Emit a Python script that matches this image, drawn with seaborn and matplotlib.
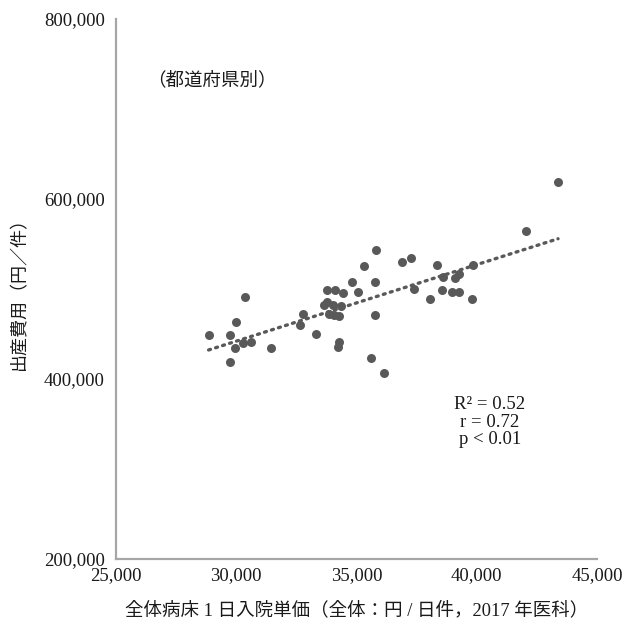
import numpy as np
import pandas as pd
import matplotlib
matplotlib.use("Agg")
import matplotlib.pyplot as plt
import seaborn as sns
from matplotlib.ticker import FuncFormatter

# 全体病床1日入院単価（円/日件）と出産費用（円/件）、都道府県別
unit_price = [
    28850, 29730, 30360, 29990, 29950, 30300, 30630, 29730, 31450, 32650,
    32790, 33300, 33790, 34090, 34450, 33650, 33790, 34040, 34360, 33870,
    34050, 34290, 34290, 34240, 34820, 35080, 35330, 35760, 35810, 35760,
    35590, 36160, 36910, 37260, 38360, 39860, 38610, 39100, 39270, 37410,
    38560, 38960, 39270, 38040, 39800, 42040, 43380,
]
delivery_cost = [
    448500, 448500, 491600, 463500, 434000, 440300, 441200, 419300, 434300, 460200,
    471900, 450100, 498400, 498400, 495800, 482500, 485600, 482200, 481600, 471900,
    471100, 470500, 441500, 435900, 508000, 496800, 525000, 508300, 543200, 470800,
    423700, 406900, 530400, 534500, 526100, 526200, 513700, 512500, 516400, 499700,
    498600, 496700, 496700, 488600, 488600, 564000, 619300,
]
x_ticks = [25000, 30000, 35000, 40000, 45000]
y_ticks = [200000, 400000, 600000, 800000]
stats_text = "R\u00b2 = 0.52\nr = 0.72\np < 0.01"
group_text = "（都道府県別）"
x_label = "全体病床 1 日入院単価（全体：円 / 日件，2017 年医科）"
y_label = "出産費用（円／件）"

df = pd.DataFrame({"price": unit_price, "cost": delivery_cost})

sns.set_theme(style="white")
plt.rcParams["font.family"] = ["Liberation Serif", "Noto Sans CJK JP"]

fig = plt.figure(figsize=(6.22, 6.24), dpi=100)
ax = fig.add_axes([0.1865, 0.1042, 0.7733, 0.8654])

point_color = "#595959"
sns.regplot(
    data=df, x="price", y="cost", ax=ax, ci=None, truncate=True,
    scatter_kws=dict(s=42, color=point_color, alpha=1, linewidths=0),
    line_kws=dict(color=point_color, linewidth=2.4,
                  linestyle=(0, (0.6, 1.6)), dash_capstyle="round"),
)

ax.set_xlim(25000, 45000)
ax.set_ylim(200000, 800000)
ax.set_xticks(x_ticks)
ax.set_yticks(y_ticks)
fmt = FuncFormatter(lambda v, p: f"{int(v):,}")
ax.xaxis.set_major_formatter(fmt)
ax.yaxis.set_major_formatter(fmt)
ax.tick_params(axis="both", length=0, labelsize=13.5, colors="#1a1a1a")
ax.tick_params(axis="x", pad=6)
ax.tick_params(axis="y", pad=8)

for side in ["top", "right"]:
    ax.spines[side].set_visible(False)
for side in ["left", "bottom"]:
    ax.spines[side].set_color("#a6a6a6")
    ax.spines[side].set_linewidth(1.6)

ax.set_xlabel(x_label, fontsize=13.3, color="#1a1a1a", labelpad=12)
ax.set_ylabel(y_label, fontsize=13, color="#1a1a1a")
ax.yaxis.set_label_coords(-0.183, 0.5)

ax.text(26300, 731500, group_text, fontsize=13.3, color="#1a1a1a",
        ha="left", va="center")
ax.text(40550, 352000, stats_text, fontsize=13.5, color="#1a1a1a",
        ha="center", va="center", linespacing=1.05)

fig.savefig("out.png", dpi=100)
